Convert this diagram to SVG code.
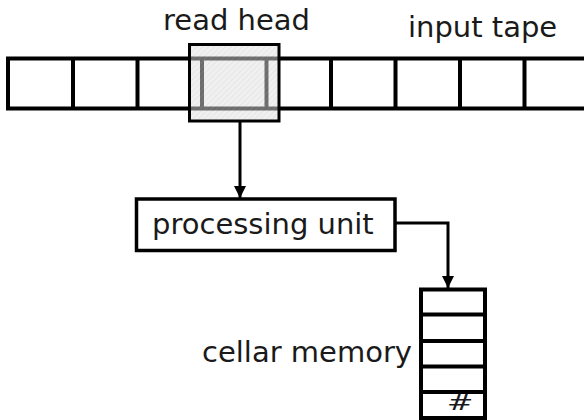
<svg xmlns="http://www.w3.org/2000/svg" width="584" height="420" viewBox="0 0 584 420">
  <style>
    .lbl { font-family: "DejaVu Sans", "Liberation Sans", sans-serif; font-size: 29px; fill: #1a1a1a; }
    .cell { fill: none; stroke: #000; stroke-width: 4; }
    .box { fill: #fff; stroke: #000; stroke-width: 3.5; }
    .wire { fill: none; stroke: #000; stroke-width: 3; }
  </style>
  <defs>
    <pattern id="hatch" width="4" height="4" patternUnits="userSpaceOnUse" patternTransform="rotate(45)">
      <rect width="4" height="4" fill="#e2e2e2"/>
      <line x1="0" y1="0" x2="0" y2="4" stroke="#bdbdbd" stroke-width="1.2"/>
    </pattern>
    <marker id="arrow" viewBox="0 0 12 12" refX="12" refY="6" markerWidth="12" markerHeight="12" markerUnits="userSpaceOnUse" orient="auto">
      <path d="M0,0 L12,6 L0,12 Z" fill="#000"/>
    </marker>
  </defs>

  <rect width="584" height="420" fill="#fff"/>

  <!-- input tape: open on the right -->
  <g id="input-tape">
    <path class="cell" d="M584,58.5 H8 V108.5 H584"/>
    <path class="cell" d="M73,58.5 V108.5 M137.5,58.5 V108.5 M202,58.5 V108.5 M266.5,58.5 V108.5 M331,58.5 V108.5 M395.5,58.5 V108.5 M460,58.5 V108.5 M524.5,58.5 V108.5"/>
    <text class="lbl" x="408" y="37">input tape</text>
  </g>

  <!-- translucent read head over the tape -->
  <g id="read-head">
    <rect x="189.5" y="44.5" width="89.5" height="76.5" fill="url(#hatch)" fill-opacity="0.5" stroke="none"/>
    <rect x="189.5" y="44.5" width="89.5" height="76.5" fill="none" stroke="#000" stroke-width="3"/>
    <text class="lbl" x="163" y="30">read head</text>
  </g>

  <g id="processing-unit">
    <rect class="box" x="136.5" y="199" width="258.5" height="51.5"/>
    <text class="lbl" x="152" y="234">processing unit</text>
  </g>

  <!-- cellar (pushdown) memory, open at the bottom -->
  <g id="cellar-memory">
    <path class="cell" d="M421,420 V289.5 H485 V420"/>
    <path class="cell" d="M421,314.5 H485 M421,341 H485 M421,366.5 H485 M421,392 H485 M421,418 H485"/>
    <text class="lbl" x="202" y="362">cellar memory</text>
    <text transform="translate(460,410) scale(1.45,0.95)" text-anchor="middle" style="font-family: 'DejaVu Sans', sans-serif; font-size: 22px; fill: #1a1a1a;">#</text>
  </g>

  <g id="connectors">
    <path class="wire" d="M240,121 V198" marker-end="url(#arrow)"/>
    <path class="wire" d="M395,223 H448 V288" stroke-linejoin="miter" marker-end="url(#arrow)"/>
  </g>
</svg>
